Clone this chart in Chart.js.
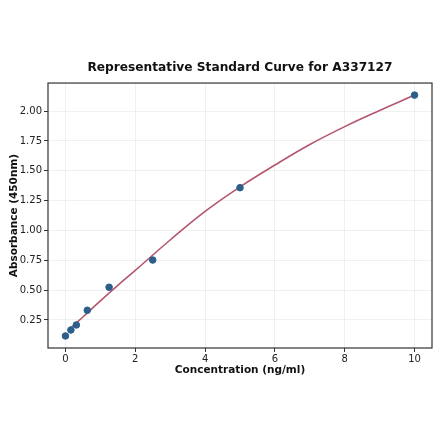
<!DOCTYPE html>
<html>
<head>
<meta charset="utf-8">
<script src="https://cdn.jsdelivr.net/npm/chart.js@4"></script>
<style>
html,body{margin:0;padding:0;background:#fff;}
#wrap{width:440px;height:441px;}
</style>
</head>
<body>
<div id="wrap"><canvas id="c" width="440" height="441"></canvas></div>
<script>
const concentrations = [0, 0.156, 0.3125, 0.625, 1.25, 2.5, 5, 10];
const absorbances = [0.116, 0.166, 0.208, 0.331, 0.524, 0.752, 1.358, 2.134];
const curveX = [0.156, 0.5, 1, 1.5, 2, 3, 4, 5, 6, 7, 8, 9, 10];
const curveY = [0.183, 0.275, 0.41, 0.54, 0.665, 0.92, 1.16, 1.365, 1.548, 1.72, 1.87, 2.005, 2.134];
const xTicks = [0, 2, 4, 6, 8, 10];
const yTicks = [0.25, 0.5, 0.75, 1.0, 1.25, 1.5, 1.75, 2.0];

const FONT = "'DejaVu Sans', sans-serif";

const borderPlugin = {
  id: 'frame',
  afterDraw(chart) {
    const a = chart.chartArea, ctx = chart.ctx;
    ctx.save();
    ctx.strokeStyle = '#333';
    ctx.lineWidth = 1.2;
    ctx.strokeRect(a.left, a.top, a.right - a.left, a.bottom - a.top);
    ctx.restore();
  }
};

new Chart(document.getElementById('c'), {
  type: 'scatter',
  data: {
    datasets: [
      {
        type: 'line',
        data: curveX.map((x, i) => ({x: x, y: curveY[i]})),
        borderColor: '#b5566c',
        borderWidth: 1.6,
        pointRadius: 0,
        tension: 0.4,
        fill: false,
        order: 2
      },
      {
        data: concentrations.map((x, i) => ({x: x, y: absorbances[i]})),
        backgroundColor: '#2d5f8b',
        borderColor: '#2d5f8b',
        pointRadius: 3.3,
        order: 1
      }
    ]
  },
  options: {
    responsive: false,
    animation: false,
    devicePixelRatio: 1,
    layout: {padding: {left: 0, right: 8, top: 0, bottom: 0}},
    plugins: {
      legend: {display: false},
      tooltip: {enabled: false},
      title: {
        display: true,
        fullSize: false,
        text: 'Representative Standard Curve for A337127',
        color: '#111',
        font: {family: FONT, size: 12.2, weight: 'bold', lineHeight: 1.2},
        padding: {top: 60.5, bottom: 7.9}
      }
    },
    scales: {
      x: {
        type: 'linear',
        min: -0.5,
        max: 10.5,
        afterBuildTicks(s) { s.ticks = xTicks.map(v => ({value: v})); },
        afterFit(s) { s.height = 93; },
        border: {display: false},
        grid: {color: 'rgba(0,0,0,0.06)', tickColor: '#333', tickLength: 4, drawTicks: true},
        ticks: {color: '#222', font: {family: FONT, size: 10}, padding: 1, maxRotation: 0,
                callback: v => String(v)},
        title: {display: true, text: 'Concentration (ng/ml)', color: '#111',
                font: {family: FONT, size: 10.5, weight: 'bold', lineHeight: 1.2},
                padding: {top: 0, bottom: 64.5}}
      },
      y: {
        type: 'linear',
        min: 0.015,
        max: 2.235,
        afterBuildTicks(s) { s.ticks = yTicks.map(v => ({value: v})); },
        afterFit(s) { s.width = 48; },
        border: {display: false},
        grid: {color: 'rgba(0,0,0,0.06)', tickColor: '#333', tickLength: 4, drawTicks: true},
        ticks: {color: '#222', font: {family: FONT, size: 10}, padding: 2,
                callback: v => Number(v).toFixed(2)},
        title: {display: true, text: 'Absorbance (450nm)', color: '#111',
                font: {family: FONT, size: 10.5, weight: 'bold', lineHeight: 1.2},
                padding: {top: 7.7, bottom: 0}}
      }
    }
  },
  plugins: [borderPlugin]
});
</script>
</body>
</html>
